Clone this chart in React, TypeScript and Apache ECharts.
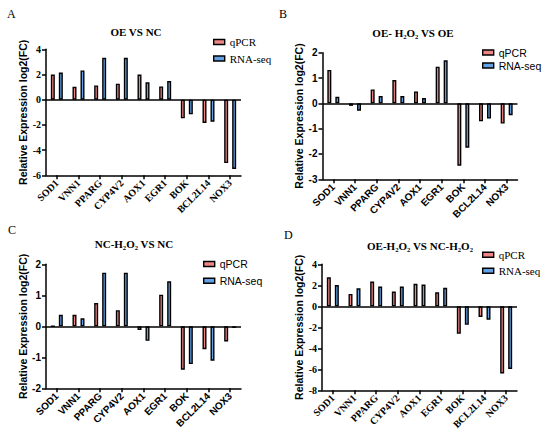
import React, { useEffect, useRef } from "react";
import * as echarts from "echarts";

const genes = ["SOD1", "VNN1", "PPARG", "CYP4V2", "AOX1", "EGR1", "BOK", "BCL2L14", "NOX3"];

const qpcrA = [2.0, 1.02, 1.13, 1.27, 2.0, 1.05, -1.48, -1.85, -5.03];
const rnaA = [2.15, 2.32, 3.33, 3.33, 1.38, 1.48, -1.16, -1.75, -5.5];

const qpcrB = [1.32, -0.1, 0.55, 0.92, 0.47, 1.45, -2.46, -0.71, -0.8];
const rnaB = [0.26, -0.29, 0.29, 0.29, 0.21, 1.7, -1.75, -0.6, -0.47];

const qpcrC = [0, 0.37, 0.75, 0.52, -0.12, 1.02, -1.4, -0.74, -0.49];
const rnaC = [0.37, 0.26, 1.73, 1.73, -0.47, 1.45, -1.22, -1.11, -0.05];

const qpcrD = [2.76, 1.18, 2.36, 1.4, 2.14, 1.33, -2.62, -1.02, -6.4];
const rnaD = [2.02, 1.72, 1.88, 1.88, 2.07, 1.76, -1.76, -1.27, -5.96];

const titles = ["OE VS NC", "OE- H₂O₂ VS OE", "NC-H₂O₂ VS NC", "OE-H₂O₂ VS NC-H₂O₂"];
const letters = ["A", "B", "C", "D"];
const yMins = [-6, -3, -2, -8];
const yMaxs = [4, 2, 2, 4];
const yIntervals = [2, 1, 1, 2];
const legendNames = ["qPCR", "RNA-seq"];

const SERIF = "'Liberation Serif', 'Times New Roman', serif";
const SANS = "'Liberation Sans', Arial, sans-serif";
const RED = "#EE8585";
const BLUE = "#62A2E4";

export default function App() {
  const ref = useRef<HTMLDivElement>(null);
  useEffect(() => {
    if (!ref.current) return;
    const chart = echarts.init(ref.current, null, { renderer: "svg" });
    const grids = [
      { left: 46, top: 49.3, width: 195, height: 126 },
      { left: 322.5, top: 52.7, width: 195, height: 126.6 },
      { left: 46, top: 264.3, width: 195, height: 124 },
      { left: 322, top: 264.3, width: 195, height: 126 },
    ];
    const fonts = [SERIF, SANS, SANS, SERIF];
    const qData = [qpcrA, qpcrB, qpcrC, qpcrD];
    const rData = [rnaA, rnaB, rnaC, rnaD];
    const legendPos = [
      { left: 213, top: 36, gap: 4.5 },
      { left: 482, top: 46.5, gap: 1 },
      { left: 203, top: 258, gap: 4.7 },
      { left: 482, top: 248.8, gap: 4 },
    ];
    const titlePos = [
      [136, 32],
      [413, 33],
      [134, 244],
      [420, 246],
    ];
    const letterPos = [
      [7, 14],
      [279, 14],
      [8, 230],
      [284, 235],
    ];

    const xAxis = grids.map((_, i) => ({
      type: "category",
      gridIndex: i,
      data: genes,
      boundaryGap: true,
      axisLine: { show: true, onZero: false, lineStyle: { color: "#000", width: 1.5 } },
      axisTick: { show: true, alignWithLabel: true, length: 4, lineStyle: { color: "#000", width: 1.5 } },
      axisLabel: {
        rotate: 45,
        interval: 0,
        margin: 6,
        color: "#000",
        fontFamily: fonts[i],
        fontWeight: "bold",
        fontSize: 10,
      },
      splitLine: { show: false },
    }));
    const yAxis = grids.map((_, i) => ({
      type: "value",
      gridIndex: i,
      min: yMins[i],
      max: yMaxs[i],
      interval: yIntervals[i],
      name: "Relative Expression log2(FC)",
      nameLocation: "middle",
      nameRotate: 90,
      nameGap: 18,
      nameTextStyle: { color: "#000", fontFamily: SANS, fontWeight: "bold", fontSize: 10.5 },
      axisLine: { show: true, lineStyle: { color: "#000", width: 1.5 } },
      axisTick: { show: true, length: 4, lineStyle: { color: "#000", width: 1.5 } },
      axisLabel: { color: "#000", fontFamily: fonts[i], fontWeight: "bold", fontSize: 10, margin: 5 },
      splitLine: { show: false },
    }));
    const series: any[] = [];
    grids.forEach((_, i) => {
      series.push({
        name: legendNames[0],
        type: "bar",
        xAxisIndex: i,
        yAxisIndex: i,
        data: qData[i],
        barWidth: 4,
        barGap: "100%",
        itemStyle: { color: RED, borderColor: "#000", borderWidth: 1.4 },
        markLine: {
          silent: true,
          symbol: "none",
          label: { show: false },
          lineStyle: { color: "#000", width: 1.5, type: "solid" },
          data: [{ yAxis: 0 }],
        },
      });
      series.push({
        name: legendNames[1],
        type: "bar",
        xAxisIndex: i,
        yAxisIndex: i,
        data: rData[i],
        barWidth: 4,
        barGap: "100%",
        itemStyle: { color: BLUE, borderColor: "#000", borderWidth: 1.4 },
      });
    });
    const legend = legendPos.map((p, i) => ({
      orient: "vertical",
      left: p.left,
      top: p.top,
      padding: 0,
      itemGap: p.gap,
      itemWidth: 11,
      itemHeight: 5,
      icon: "rect",
      selectedMode: false,
      data: legendNames,
      itemStyle: { borderColor: "#000", borderWidth: 1.4 },
      textStyle: {
        color: "#000",
        fontFamily: fonts[i],
        fontSize: i === 0 || i === 3 ? 11 : 10.5,
        lineHeight: 12,
      },
    }));
    const graphic: any[] = [];
    titles.forEach((t, i) => {
      graphic.push({
        type: "text",
        x: titlePos[i][0],
        y: titlePos[i][1],
        style: {
          text: t,
          font: `bold 11px ${SERIF}`,
          fill: "#000",
          textAlign: "center",
          textVerticalAlign: "middle",
        },
      });
    });
    letters.forEach((t, i) => {
      graphic.push({
        type: "text",
        x: letterPos[i][0],
        y: letterPos[i][1],
        style: {
          text: t,
          font: `12px ${SERIF}`,
          fill: "#000",
          textAlign: "left",
          textVerticalAlign: "middle",
        },
      });
    });
    chart.setOption({
      animation: false,
      backgroundColor: "#fff",
      grid: grids,
      xAxis,
      yAxis,
      series,
      legend,
      graphic,
    });
    return () => chart.dispose();
  }, []);
  return (
    <div
      ref={ref}
      style={{ position: "fixed", left: 0, top: 0, width: 550, height: 438 }}
    />
  );
}
